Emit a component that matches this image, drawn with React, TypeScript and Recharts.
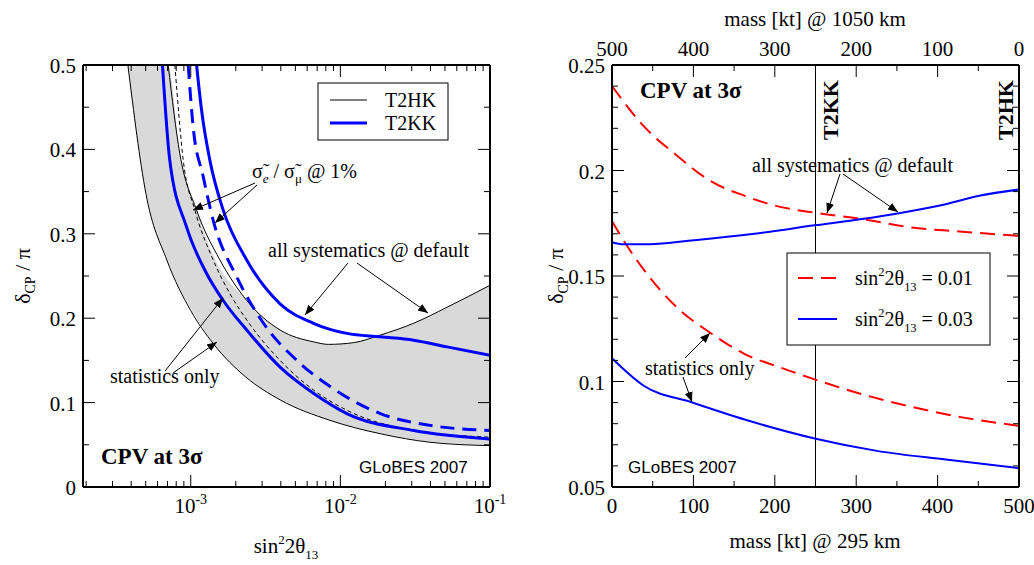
import { ComposedChart, Line, Area, XAxis, YAxis, ReferenceLine } from 'recharts';

// left panel: x is log10(sin^2 2theta13)
const hkStat = [
  { x: -3.42, y: 0.5 }, { x: -3.3, y: 0.348 }, { x: -3.16, y: 0.269 }, { x: -3.0, y: 0.209 },
  { x: -2.85, y: 0.17 }, { x: -2.63, y: 0.13 }, { x: -2.4, y: 0.103 }, { x: -2.07, y: 0.079 },
  { x: -1.73, y: 0.063 }, { x: -1.4, y: 0.053 }, { x: -1.0, y: 0.049 },
];
const hkSys = [
  { x: -3.151, y: 0.5 }, { x: -3.073, y: 0.395 }, { x: -2.961, y: 0.328 }, { x: -2.805, y: 0.269 },
  { x: -2.626, y: 0.221 }, { x: -2.403, y: 0.186 }, { x: -2.18, y: 0.172 }, { x: -2.08, y: 0.169 },
  { x: -1.912, y: 0.171 }, { x: -1.733, y: 0.18 }, { x: -1.51, y: 0.194 }, { x: -1.287, y: 0.213 },
  { x: -1.0, y: 0.239 },
];
const hkSig = [
  { x: -3.106, y: 0.5 }, { x: -3.05, y: 0.387 }, { x: -2.972, y: 0.328 }, { x: -2.85, y: 0.269 },
  { x: -2.738, y: 0.229 }, { x: -2.626, y: 0.198 }, { x: -2.403, y: 0.15 }, { x: -2.18, y: 0.115 },
  { x: -1.957, y: 0.091 }, { x: -1.51, y: 0.067 }, { x: -1.0, y: 0.059 },
];
const kkStat = [
  { x: -3.189, y: 0.5 }, { x: -3.14, y: 0.387 }, { x: -3.028, y: 0.308 }, { x: -2.894, y: 0.253 },
  { x: -2.783, y: 0.221 }, { x: -2.626, y: 0.186 }, { x: -2.403, y: 0.142 }, { x: -2.18, y: 0.111 },
  { x: -1.957, y: 0.087 }, { x: -1.51, y: 0.067 }, { x: -1.0, y: 0.057 },
];
const kkSig = [
  { x: -3.017, y: 0.5 }, { x: -2.984, y: 0.427 }, { x: -2.917, y: 0.368 }, { x: -2.85, y: 0.316 },
  { x: -2.693, y: 0.249 }, { x: -2.514, y: 0.194 }, { x: -2.291, y: 0.15 }, { x: -2.068, y: 0.119 },
  { x: -1.733, y: 0.087 }, { x: -1.399, y: 0.073 }, { x: -1.0, y: 0.067 },
];
const kkSys = [
  { x: -2.961, y: 0.5 }, { x: -2.928, y: 0.447 }, { x: -2.872, y: 0.387 }, { x: -2.783, y: 0.328 },
  { x: -2.626, y: 0.269 }, { x: -2.403, y: 0.217 }, { x: -2.18, y: 0.194 }, { x: -1.957, y: 0.182 },
  { x: -1.733, y: 0.178 }, { x: -1.51, y: 0.174 }, { x: -1.287, y: 0.166 }, { x: -1.0, y: 0.156 },
];
const band = [
  { x: -3.42, r: [0.5, 0.5] }, { x: -3.3, r: [0.348, 0.5] }, { x: -3.151, r: [0.266, 0.5] },
  { x: -3.073, r: [0.235, 0.395] }, { x: -2.961, r: [0.2, 0.328] }, { x: -2.85, r: [0.17, 0.275] },
  { x: -2.626, r: [0.13, 0.221] }, { x: -2.403, r: [0.103, 0.186] },
  { x: -2.18, r: [0.086, 0.172] }, { x: -2.08, r: [0.079, 0.169] }, { x: -1.912, r: [0.071, 0.171] },
  { x: -1.733, r: [0.063, 0.18] }, { x: -1.51, r: [0.056, 0.194] }, { x: -1.287, r: [0.052, 0.213] },
  { x: -1.0, r: [0.049, 0.239] },
];
const logMajor = [-3, -2, -1];
const logMinor = [-3.699, -3.523, -3.398, -3.301, -3.222, -3.155, -3.097, -3.046,
  -2.699, -2.523, -2.398, -2.301, -2.222, -2.155, -2.097, -2.046,
  -1.699, -1.523, -1.398, -1.301, -1.222, -1.155, -1.097, -1.046];
const leftYMajor = [0, 0.1, 0.2, 0.3, 0.4, 0.5];
const leftYMinor = [0.05, 0.15, 0.25, 0.35, 0.45];

// right panel: x is mass [kt] @ 295 km; top axis shows mass @ 1050 km = 500 - x
const red01Sys = [
  { x: 0, y: 0.24 }, { x: 39, y: 0.221 }, { x: 80, y: 0.207 }, { x: 121, y: 0.195 }, { x: 163, y: 0.188 },
  { x: 204, y: 0.183 }, { x: 249, y: 0.18 }, { x: 307, y: 0.177 }, { x: 368, y: 0.173 }, { x: 430, y: 0.171 },
  { x: 500, y: 0.169 },
];
const red01Stat = [
  { x: 0, y: 0.176 }, { x: 19, y: 0.164 }, { x: 39, y: 0.153 }, { x: 80, y: 0.135 }, { x: 121, y: 0.123 },
  { x: 163, y: 0.113 }, { x: 204, y: 0.107 }, { x: 249, y: 0.101 }, { x: 307, y: 0.094 }, { x: 368, y: 0.088 },
  { x: 430, y: 0.083 }, { x: 500, y: 0.079 },
];
const blue03Sys = [
  { x: 0, y: 0.166 }, { x: 14, y: 0.165 }, { x: 39, y: 0.165 }, { x: 101, y: 0.167 }, { x: 175, y: 0.17 },
  { x: 249, y: 0.174 }, { x: 307, y: 0.177 }, { x: 356, y: 0.18 }, { x: 410, y: 0.184 }, { x: 451, y: 0.188 },
  { x: 500, y: 0.191 },
];
const blue03Stat = [
  { x: 0, y: 0.111 }, { x: 39, y: 0.098 }, { x: 99, y: 0.09 }, { x: 163, y: 0.082 }, { x: 249, y: 0.073 },
  { x: 327, y: 0.067 }, { x: 410, y: 0.063 }, { x: 500, y: 0.059 },
];
const massMajor = [0, 100, 200, 300, 400, 500];
const massMinor = [50, 150, 250, 350, 450];
const rightYMajor = [0.05, 0.1, 0.15, 0.2, 0.25];
const rightYMinor = [0.06, 0.07, 0.08, 0.09, 0.11, 0.12, 0.13, 0.14, 0.16, 0.17, 0.18, 0.19, 0.21, 0.22, 0.23, 0.24];

const SERIF = '"Liberation Serif", "DejaVu Serif", serif';
const SANS = '"Liberation Sans", Arial, sans-serif';
const BLUE = '#0000ff';
const RED = '#ff0000';
const FS = 21;

const isMajor = (majors: number[], v: number) => majors.some((m) => Math.abs(m - v) < 1e-6);
const fmtY = (v: number) => (v === 0 ? '0' : String(+v.toFixed(2)));

// one tick component per side: inward tick line, label only on majors
function makeTick(side: 'bottom' | 'top' | 'left' | 'right', majors: number[], label?: (v: number) => any) {
  return (props: any) => {
    const { x, y, payload } = props;
    const v = payload.value;
    const major = isMajor(majors, v);
    const len = major ? 12 : 6;
    let line;
    if (side === 'bottom') line = <line x1={x} y1={y} x2={x} y2={y - len} stroke="#000" />;
    else if (side === 'top') line = <line x1={x} y1={y} x2={x} y2={y + len} stroke="#000" />;
    else if (side === 'left') line = <line x1={x} y1={y} x2={x + len} y2={y} stroke="#000" />;
    else line = <line x1={x} y1={y} x2={x - len} y2={y} stroke="#000" />;
    let text = null;
    if (major && label) {
      if (side === 'bottom') text = <text x={x} y={y + 26} textAnchor="middle" fontFamily={SERIF} fontSize={FS} fill="#000">{label(v)}</text>;
      else if (side === 'top') text = <text x={x} y={y - 9} textAnchor="middle" fontFamily={SERIF} fontSize={FS} fill="#000">{label(v)}</text>;
      else if (side === 'left') text = <text x={x - 7} y={y + 8} textAnchor="end" fontFamily={SERIF} fontSize={FS} fill="#000">{label(v)}</text>;
    }
    return <g>{line}{text}</g>;
  };
}

const logLabel = (v: number) => (
  <>10<tspan dy={-9} fontSize={14}>{v}</tspan></>
);

function Arrow({ x1, y1, x2, y2 }: { x1: number; y1: number; x2: number; y2: number }) {
  return <line x1={x1} y1={y1} x2={x2} y2={y2} stroke="#000" strokeWidth={1} markerEnd="url(#ah)" />;
}

const axisLine = { stroke: '#000', strokeWidth: 2 };

function LeftPanel() {
  const xt = [...logMajor, ...logMinor];
  const yt = [...leftYMajor, ...leftYMinor];
  return (
    <ComposedChart width={540} height={565} margin={{ top: 64, left: 82, right: 49, bottom: 77 }}>
      <XAxis xAxisId="b" type="number" dataKey="x" domain={[-3.72, -1]} ticks={xt} allowDataOverflow interval={0}
        height={1} tickSize={0} tickMargin={0} tickLine={false} axisLine={axisLine} tick={makeTick('bottom', logMajor, logLabel)} />
      <XAxis xAxisId="t" orientation="top" type="number" dataKey="x" domain={[-3.72, -1]} ticks={xt} allowDataOverflow interval={0}
        height={1} tickSize={0} tickMargin={0} tickLine={false} axisLine={axisLine} tick={makeTick('top', logMajor)} />
      <YAxis yAxisId="l" type="number" domain={[0, 0.5]} ticks={yt} width={1} allowDataOverflow interval={0}
        tickSize={0} tickMargin={0} tickLine={false} axisLine={axisLine} tick={makeTick('left', leftYMajor, fmtY)} />
      <YAxis yAxisId="r" orientation="right" type="number" domain={[0, 0.5]} ticks={yt} width={1} allowDataOverflow interval={0}
        tickSize={0} tickMargin={0} tickLine={false} axisLine={axisLine} tick={makeTick('right', leftYMajor)} />
      <Area xAxisId="b" yAxisId="l" data={band} dataKey="r" type="monotone" fill="#d9d9d9" fillOpacity={1} stroke="none" isAnimationActive={false} />
      <Line xAxisId="b" yAxisId="l" data={hkStat} dataKey="y" type="monotone" stroke="#000" strokeWidth={1} dot={false} isAnimationActive={false} />
      <Line xAxisId="b" yAxisId="l" data={hkSys} dataKey="y" type="monotone" stroke="#000" strokeWidth={1} dot={false} isAnimationActive={false} />
      <Line xAxisId="b" yAxisId="l" data={hkSig} dataKey="y" type="monotone" stroke="#000" strokeWidth={1} strokeDasharray="4 3" dot={false} isAnimationActive={false} />
      <Line xAxisId="b" yAxisId="l" data={kkStat} dataKey="y" type="monotone" stroke={BLUE} strokeWidth={3} dot={false} isAnimationActive={false} />
      <Line xAxisId="b" yAxisId="l" data={kkSig} dataKey="y" type="monotone" stroke={BLUE} strokeWidth={3} strokeDasharray="14 8" dot={false} isAnimationActive={false} />
      <Line xAxisId="b" yAxisId="l" data={kkSys} dataKey="y" type="monotone" stroke={BLUE} strokeWidth={3} dot={false} isAnimationActive={false} />
      {/* same curve bound to the top/right axes so they get their ticks */}
      <Line xAxisId="t" yAxisId="r" data={kkSys} dataKey="y" stroke="none" dot={false} isAnimationActive={false} />
    </ComposedChart>
  );
}

function RightPanel() {
  const xt = [...massMajor, ...massMinor];
  const yt = [...rightYMajor, ...rightYMinor];
  return (
    <ComposedChart width={494} height={565} margin={{ top: 64, left: 71, right: 14, bottom: 77 }}>
      <XAxis xAxisId="b" type="number" dataKey="x" domain={[0, 500]} ticks={xt} interval={0}
        height={1} tickSize={0} tickMargin={0} tickLine={false} axisLine={axisLine} tick={makeTick('bottom', massMajor, (v) => String(v))} />
      <XAxis xAxisId="t" orientation="top" type="number" dataKey="x" domain={[0, 500]} ticks={xt} interval={0}
        height={1} tickSize={0} tickMargin={0} tickLine={false} axisLine={axisLine} tick={makeTick('top', massMajor, (v) => String(500 - v))} />
      <YAxis yAxisId="l" type="number" domain={[0.05, 0.25]} ticks={yt} width={1} interval={0}
        tickSize={0} tickMargin={0} tickLine={false} axisLine={axisLine} tick={makeTick('left', rightYMajor, fmtY)} />
      <YAxis yAxisId="r" orientation="right" type="number" domain={[0.05, 0.25]} ticks={yt} width={1} interval={0}
        tickSize={0} tickMargin={0} tickLine={false} axisLine={axisLine} tick={makeTick('right', rightYMajor)} />
      <ReferenceLine xAxisId="b" yAxisId="l" x={250} stroke="#000" strokeWidth={1} />
      <Line xAxisId="b" yAxisId="l" data={red01Sys} dataKey="y" type="monotone" stroke={RED} strokeWidth={2} strokeDasharray="15 8" dot={false} isAnimationActive={false} />
      <Line xAxisId="b" yAxisId="l" data={red01Stat} dataKey="y" type="monotone" stroke={RED} strokeWidth={2} strokeDasharray="15 8" dot={false} isAnimationActive={false} />
      <Line xAxisId="b" yAxisId="l" data={blue03Sys} dataKey="y" type="monotone" stroke={BLUE} strokeWidth={2} dot={false} isAnimationActive={false} />
      <Line xAxisId="b" yAxisId="l" data={blue03Stat} dataKey="y" type="monotone" stroke={BLUE} strokeWidth={2} dot={false} isAnimationActive={false} />
      <Line xAxisId="t" yAxisId="r" data={blue03Sys} dataKey="y" stroke="none" dot={false} isAnimationActive={false} />
    </ComposedChart>
  );
}

function Sin2({ x, y, anchor, tail, fs }: { x: number; y: number; anchor?: string; tail?: string; fs: number }) {
  return (
    <text x={x} y={y} fontSize={fs} fontFamily={SERIF} textAnchor={anchor as any}>
      sin<tspan fontSize={fs * 0.62} dy={-fs * 0.45}>2</tspan><tspan dy={fs * 0.45}>2θ</tspan>
      <tspan fontSize={fs * 0.62} dy={fs * 0.3}>13</tspan>{tail ? <tspan dy={-fs * 0.3}>{tail}</tspan> : null}
    </text>
  );
}

function Overlay() {
  const t = { fontFamily: SERIF, fill: '#000' } as const;
  return (
    <svg width={1034} height={565} style={{ position: 'absolute', left: 0, top: 0, pointerEvents: 'none' }}>
      <defs>
        <marker id="ah" viewBox="0 0 10 10" refX="10" refY="5" markerWidth="10" markerHeight="10" orient="auto-start-reverse" markerUnits="userSpaceOnUse">
          <path d="M0,1 L10,5 L0,9 z" fill="#000" />
        </marker>
      </defs>
      {/* left panel */}
      <rect x={318} y={83} width={130} height={57} fill="#fff" stroke="#000" strokeWidth={1} />
      <line x1={330} y1={100} x2={367} y2={100} stroke="#000" strokeWidth={1} />
      <line x1={330} y1={123} x2={367} y2={123} stroke={BLUE} strokeWidth={3} />
      <text x={385} y={107} fontSize={20} {...t}>T2HK</text>
      <text x={385} y={130} fontSize={20} {...t}>T2KK</text>
      <text x={252} y={178} fontSize={20} {...t}>σ̃<tspan fontSize={13} dy={5} fontStyle="italic">e</tspan><tspan dy={-5}> / σ̃</tspan><tspan fontSize={13} dy={5}>μ</tspan><tspan dy={-5}> @ 1%</tspan></text>
      <Arrow x1={255} y1={183} x2={193} y2={210} />
      <Arrow x1={257} y1={185} x2={215} y2={223} />
      <text x={268} y={257} fontSize={20} {...t}>all systematics @ default</text>
      <Arrow x1={348} y1={263} x2={305} y2={315} />
      <Arrow x1={357} y1={263} x2={428} y2={313} />
      <text x={110} y={383} fontSize={20} {...t}>statistics only</text>
      <Arrow x1={165} y1={371} x2={223} y2={298} />
      <Arrow x1={173} y1={373} x2={217} y2={342} />
      <text x={101} y={464} fontSize={23} fontWeight="bold" {...t}>CPV at 3σ</text>
      <text x={359} y={473} fontSize={17} fontFamily={SANS} fill="#000">GLoBES 2007</text>
      <Sin2 x={286} y={553} anchor="middle" fs={21} />
      <text transform="translate(30,276) rotate(-90)" fontSize={22} textAnchor="middle" {...t}>δ<tspan fontSize={14} dy={5}>CP</tspan><tspan dy={-5}> / π</tspan></text>
      {/* right panel */}
      <text x={640} y={98} fontSize={23} fontWeight="bold" {...t}>CPV at 3σ</text>
      <text transform="translate(838,140) rotate(-90)" fontSize={22} fontWeight="bold" {...t}>T2KK</text>
      <text transform="translate(1013,140) rotate(-90)" fontSize={22} fontWeight="bold" {...t}>T2HK</text>
      <text x={752} y={172} fontSize={20} {...t}>all systematics @ default</text>
      <Arrow x1={840} y1={174} x2={827} y2={213} />
      <Arrow x1={843} y1={174} x2={898} y2={212} />
      <rect x={787} y={253} width={203} height={92} fill="#fff" stroke="#000" strokeWidth={1} />
      <line x1={798} y1={278} x2={837} y2={278} stroke={RED} strokeWidth={2} strokeDasharray="15 8" />
      <line x1={798} y1={319} x2={837} y2={319} stroke={BLUE} strokeWidth={2} />
      <Sin2 x={855} y={285} fs={20} tail=" = 0.01" />
      <Sin2 x={855} y={326} fs={20} tail=" = 0.03" />
      <text x={645} y={375} fontSize={20} {...t}>statistics only</text>
      <Arrow x1={685} y1={358} x2={710} y2={333} />
      <Arrow x1={683} y1={377} x2={692} y2={402} />
      <text x={628} y={473} fontSize={17} fontFamily={SANS} fill="#000">GLoBES 2007</text>
      <text x={815} y={548} fontSize={21} textAnchor="middle" {...t}>mass [kt] @ 295 km</text>
      <text x={815} y={26} fontSize={21} textAnchor="middle" {...t}>mass [kt] @ 1050 km</text>
      <text transform="translate(563,276) rotate(-90)" fontSize={22} textAnchor="middle" {...t}>δ<tspan fontSize={14} dy={5}>CP</tspan><tspan dy={-5}> / π</tspan></text>
    </svg>
  );
}

export default function App() {
  return (
    <div style={{ position: 'absolute', left: 0, top: 0, width: 1034, height: 565, background: '#fff' }}>
      <div style={{ position: 'absolute', left: 0, top: 0 }}><LeftPanel /></div>
      <div style={{ position: 'absolute', left: 540, top: 0 }}><RightPanel /></div>
      <Overlay />
    </div>
  );
}
